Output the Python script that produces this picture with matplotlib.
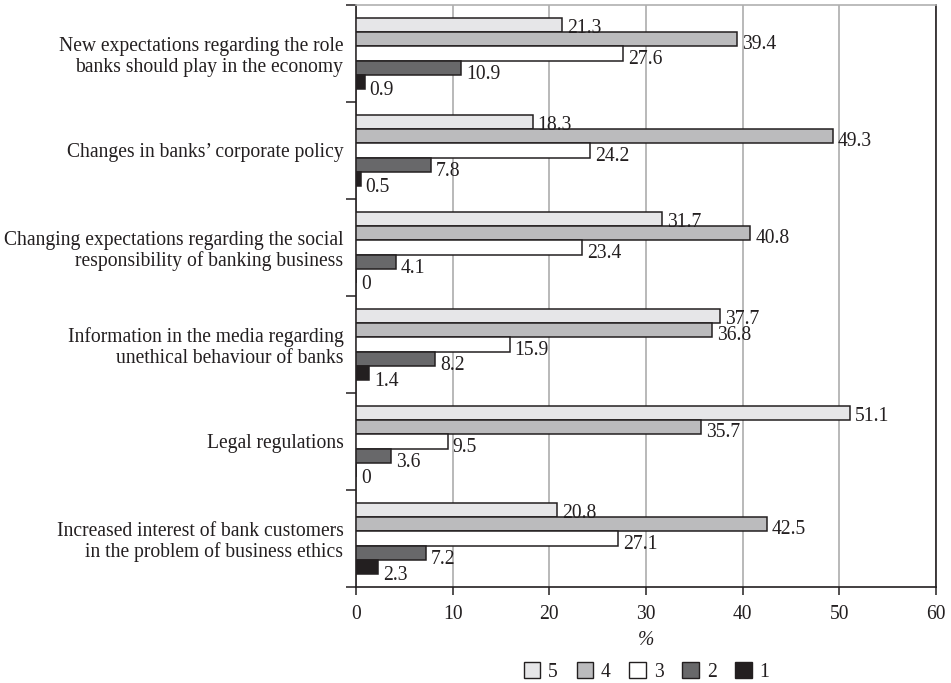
import numpy as np
import matplotlib.pyplot as plt
from matplotlib.patches import Patch

plt.rcParams['font.family'] = ['Liberation Serif', 'DejaVu Serif']

categories = [
    "New expectations regarding the role\nbanks should play in the economy",
    "Changes in banks\u2019 corporate policy",
    "Changing expectations regarding the social\nresponsibility of banking business",
    "Information in the media regarding\nunethical behaviour of banks",
    "Legal regulations",
    "Increased interest of bank customers\nin the problem of business ethics",
]
series_names = ["5", "4", "3", "2", "1"]
s5 = [21.3, 18.3, 31.7, 37.7, 51.1, 20.8]
s4 = [39.4, 49.3, 40.8, 36.8, 35.7, 42.5]
s3 = [27.6, 24.2, 23.4, 15.9, 9.5, 27.1]
s2 = [10.9, 7.8, 4.1, 8.2, 3.6, 7.2]
s1 = [0.9, 0.5, 0, 1.4, 0, 2.3]
x_ticks = [0, 10, 20, 30, 40, 50, 60]

colors = ["#e6e6e8", "#bbbbbd", "#ffffff", "#68686a", "#231f20"]
# labels of the lower bars sit a little below the bar middle
label_drop = [-0.7, -2.0, -2.2, -3.0, -4.5]
text_col = "#231f20"
fs = 14.1

fig = plt.figure(figsize=(9.51, 6.83), dpi=100)
ax = fig.add_axes([0.3743, 0.1406, 0.6099, 0.8521])

n = len(categories)
centers = np.arange(n)
bar_h = 0.145
for i, vals in enumerate([s5, s4, s3, s2, s1]):
    ypos = centers - 2 * bar_h + i * bar_h
    ax.barh(ypos, vals, height=bar_h, color=colors[i], edgecolor="#231f20",
            linewidth=1.1, zorder=3)
    for y, v in zip(ypos, vals):
        ax.annotate(f"{v:g}", (v, y), xytext=(3.5, label_drop[i]),
                    textcoords="offset points", va="center_baseline", ha="left",
                    fontsize=fs, color=text_col, zorder=6)

ax.set_xlim(0, 60)
ax.set_ylim(n - 0.5, -0.5)
ax.set_xticks(x_ticks)
ax.set_xticklabels([str(t) for t in x_ticks], fontsize=fs, color=text_col)
ax.tick_params(axis="x", length=6, width=1.1, color="#231f20", pad=7, direction="out")

# category boundaries as tick marks, labels at the centers
ax.set_yticks(np.arange(n + 1) - 0.5)
ax.set_yticklabels([])
ax.tick_params(axis="y", which="major", length=7, width=1.1, color="#231f20")
ax.set_yticks(centers, minor=True)
ax.set_yticklabels(categories, minor=True, fontsize=fs, color=text_col,
                   linespacing=1.12)
ax.tick_params(axis="y", which="minor", length=0, pad=9)

ax.grid(axis="x", color="#a6a6a6", linewidth=1.1, zorder=0)
ax.set_axisbelow(True)
for side in ["left", "bottom", "right"]:
    ax.spines[side].set_color("#231f20")
    ax.spines[side].set_linewidth(1.2)
ax.spines["top"].set_color("#b0b0b0")
ax.spines["top"].set_linewidth(1.2)

ax.set_xlabel("%", fontsize=fs, style="italic", color=text_col, labelpad=5)

handles = [Patch(facecolor=c, edgecolor="#231f20", linewidth=1.0) for c in colors]
fig.legend(handles, series_names, loc="center", bbox_to_anchor=(0.68, 0.016),
           ncol=5, frameon=False, fontsize=fs, handlelength=0.85, handleheight=0.85,
           handletextpad=0.4, columnspacing=0.95, labelcolor=text_col,
           borderpad=0.1)

fig.savefig("out.png", dpi=100)
